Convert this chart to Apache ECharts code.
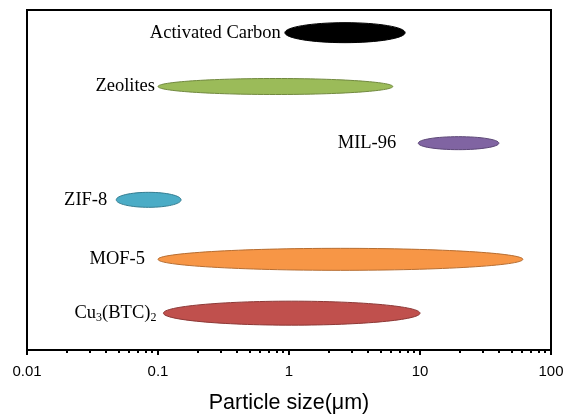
<!DOCTYPE html>
<html>
<head>
<meta charset="utf-8">
<script src="https://cdn.jsdelivr.net/npm/echarts@6/dist/echarts.min.js"></script>
<style>
  html, body { margin: 0; padding: 0; background: #fff; }
  #chart { width: 565px; height: 414px; }
</style>
</head>
<body>
<div id="chart"></div>
<script>
// particle size ranges (um)
const materials = ['Activated Carbon', 'Zeolites', 'MIL-96', 'ZIF-8', 'MOF-5', 'Cu3(BTC)2'];
const minSize = [0.93, 0.1, 9.7, 0.048, 0.1, 0.11];
const maxSize = [7.7, 6.2, 40, 0.15, 61, 10];
const rowPos = [5.6, 4.65, 3.65, 2.65, 1.6, 0.65];
const xTicks = [0.01, 0.1, 1, 10, 100];

// look of each ellipse + label gap (px)
const looks = [
  { fill: '#000000', stroke: '#000000', h: 20, gap: 4 },
  { fill: '#9BBB59', stroke: '#71893F', h: 16, gap: 3 },
  { fill: '#8064A2', stroke: '#5C4776', h: 13, gap: 22 },
  { fill: '#4BACC6', stroke: '#357D91', h: 15, gap: 9 },
  { fill: '#F79646', stroke: '#B66D31', h: 22, gap: 13 },
  { fill: '#C0504D', stroke: '#8C3836', h: 24, gap: 7 }
];

const serif = '"Liberation Serif", "Times New Roman", serif';
const sans = '"Liberation Sans", Arial, sans-serif';

const data = materials.map((m, i) => [minSize[i], maxSize[i], rowPos[i], m]);

function labelText(name) {
  if (name === 'Cu3(BTC)2') return '{n|Cu}{s|3}{n|(BTC)}{s|2}';
  return '{n|' + name + '}';
}

function renderItem(params, api) {
  const i = params.dataIndex;
  const p0 = api.coord([api.value(0), api.value(2)]);
  const p1 = api.coord([api.value(1), api.value(2)]);
  const lk = looks[i];
  const cx = (p0[0] + p1[0]) / 2;
  const cy = p0[1];
  return {
    type: 'group',
    children: [
      {
        type: 'ellipse',
        shape: { cx: cx, cy: cy, rx: (p1[0] - p0[0]) / 2, ry: lk.h / 2 },
        style: { fill: lk.fill, stroke: lk.stroke, lineWidth: 1 }
      },
      {
        type: 'text',
        x: p0[0] - lk.gap,
        y: cy,
        style: {
          text: labelText(materials[i]),
          align: 'right',
          verticalAlign: 'middle',
          rich: {
            n: { fontSize: 18.5, fontFamily: serif, fill: '#000', lineHeight: 22 },
            s: { fontSize: 12, fontFamily: serif, fill: '#000', lineHeight: 22, verticalAlign: 'bottom' }
          }
        }
      }
    ]
  };
}

const chart = echarts.init(document.getElementById('chart'));
chart.setOption({
  animation: false,
  grid: {
    left: 27, right: 14, top: 10, bottom: 64,
    outerBoundsMode: 'none',
    containLabel: false,
    show: true, borderColor: '#000', borderWidth: 2, backgroundColor: 'transparent'
  },
  xAxis: {
    type: 'log',
    logBase: 10,
    min: xTicks[0],
    max: xTicks[xTicks.length - 1],
    name: 'Particle size(\u03bcm)',
    nameLocation: 'middle',
    nameGap: 42,
    nameTextStyle: { fontFamily: sans, fontSize: 21.5, color: '#000' },
    axisLine: { show: true, lineStyle: { color: '#000', width: 2 } },
    axisTick: { show: true, inside: false, length: 5, lineStyle: { color: '#000', width: 2 } },
    minorTick: { show: true, splitNumber: 9, length: 3, lineStyle: { color: '#000', width: 2 } },
    axisLabel: { fontFamily: sans, fontSize: 15, color: '#000', margin: 14 },
    splitLine: { show: false },
    minorSplitLine: { show: false }
  },
  yAxis: {
    type: 'value',
    min: 0,
    max: 6,
    axisLine: { show: true, lineStyle: { color: '#000', width: 2 } },
    axisTick: { show: false },
    axisLabel: { show: false },
    splitLine: { show: false }
  },
  series: [{
    type: 'custom',
    renderItem: renderItem,
    encode: { x: [0, 1], y: 2 },
    data: data
  }]
});
</script>
</body>
</html>
